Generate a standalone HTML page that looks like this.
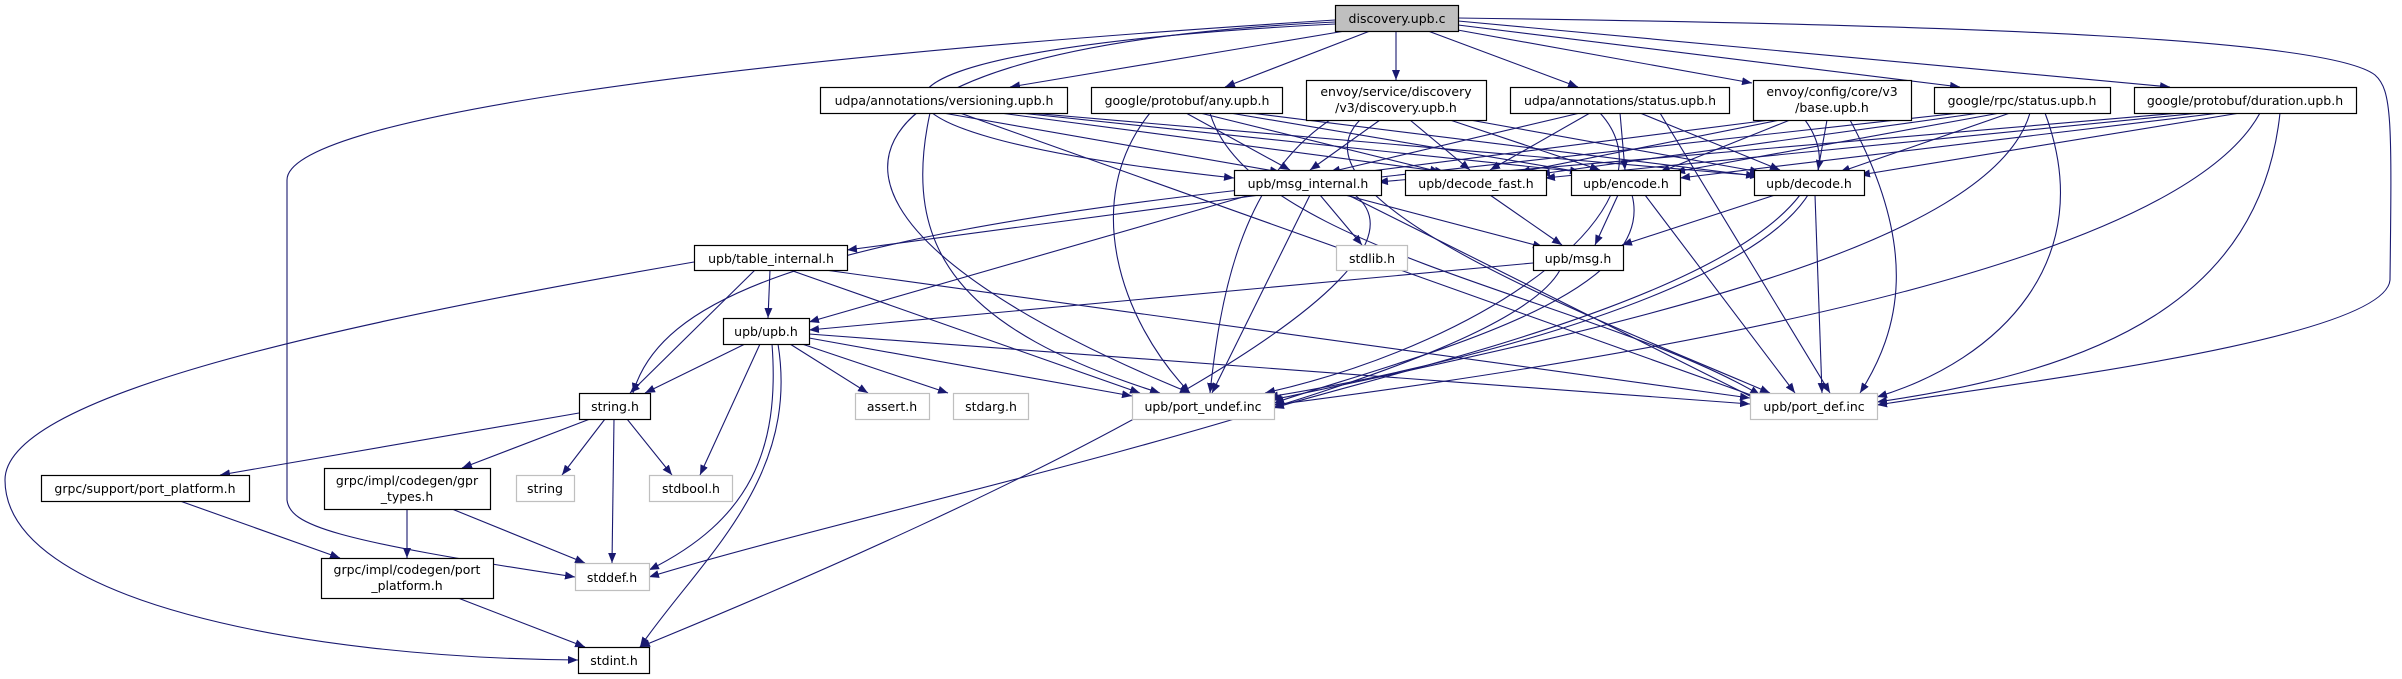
<!DOCTYPE html>
<html><head><meta charset="utf-8"><style>
html,body{margin:0;padding:0;background:#fff;}
svg{display:block;}
text{font-family:"DejaVu Sans","Liberation Sans",sans-serif;font-size:12.5px;fill:#000;text-anchor:middle;}
.n{fill:#fff;stroke:#000;stroke-width:1.2;}
.g{fill:#fff;stroke:#bfbfbf;stroke-width:1.2;}
.e{fill:none;stroke:#191970;stroke-width:1.1;marker-end:url(#a);}
</style></head><body>
<svg width="2402" height="679" viewBox="0 0 2402 679" xmlns="http://www.w3.org/2000/svg">
<defs><marker id="a" viewBox="0 0 10 8" refX="10" refY="4" markerWidth="10" markerHeight="8" markerUnits="userSpaceOnUse" orient="auto"><path d="M0,0 L10,4 L0,8 z" fill="#191970"/></marker></defs>
<g>
<path class="e" d="M1345,31 L1010,87"/>
<path class="e" d="M1370,31 L1225,87"/>
<path class="e" d="M1396,31 L1396,80"/>
<path class="e" d="M1428,31 L1578,87"/>
<path class="e" d="M1452,29 L1752,83"/>
<path class="e" d="M1458,25 L1960,87"/>
<path class="e" d="M1458,21 L2170,87"/>
<path class="e" d="M1335,24 C820,50 790,130 1234,178"/>
<path class="e" d="M1335,22 C760,50 770,220 1190,393"/>
<path class="e" d="M1335,20 C700,60 287,120 287,180 L287,500 C290,525 330,540 575,577"/>
<path class="e" d="M1458,18 C2000,25 2330,40 2375,75 C2392,90 2392,120 2390,280 C2385,340 2000,385 1877,405"/>
<path class="e" d="M943,113 L1280,172"/><path class="e" d="M1000,113 L1445,172"/><path class="e" d="M1020,113 L1600,174"/><path class="e" d="M1030,113 L1760,176"/><path class="e" d="M930,113 C900,250 960,330 1160,393"/><path class="e" d="M960,113 L1765,400"/>
<path class="e" d="M1186,113 L1290,170"/><path class="e" d="M1200,113 L1440,172"/><path class="e" d="M1230,113 L1580,172"/><path class="e" d="M1250,113 L1756,176"/><path class="e" d="M1150,113 C1080,200 1120,320 1190,393"/><path class="e" d="M1210,113 C1250,250 1600,300 1760,395"/>
<path class="e" d="M1380,120 L1310,170"/><path class="e" d="M1410,120 L1470,170"/><path class="e" d="M1450,120 L1600,170"/><path class="e" d="M1470,120 L1760,172"/><path class="e" d="M1330,120 C1240,180 1220,300 1210,393"/><path class="e" d="M1360,120 C1280,200 1600,320 1770,393"/>
<path class="e" d="M1580,113 L1330,172"/><path class="e" d="M1590,113 L1490,170"/><path class="e" d="M1620,113 L1625,170"/><path class="e" d="M1640,113 L1780,170"/><path class="e" d="M1600,113 C1680,200 1500,340 1265,393"/><path class="e" d="M1660,113 L1830,393"/>
<path class="e" d="M1770,120 L1340,175"/><path class="e" d="M1780,120 L1520,172"/><path class="e" d="M1790,120 L1660,172"/><path class="e" d="M1827,120 L1818,170"/><path class="e" d="M1805,120 C1900,250 1500,360 1268,397"/><path class="e" d="M1850,120 C1920,250 1900,330 1860,393"/>
<path class="e" d="M1960,113 L1372,178"/><path class="e" d="M1980,113 L1540,174"/><path class="e" d="M2000,113 L1675,172"/><path class="e" d="M2010,113 L1840,172"/><path class="e" d="M2030,113 C1990,250 1600,330 1272,400"/><path class="e" d="M2045,113 C2100,260 2000,360 1877,397"/>
<path class="e" d="M2180,113 L1378,182"/><path class="e" d="M2200,113 L1545,178"/><path class="e" d="M2220,113 L1680,178"/><path class="e" d="M2240,113 L1860,175"/><path class="e" d="M2260,113 C2180,260 1700,350 1273,405"/><path class="e" d="M2280,113 C2260,300 2100,370 1877,402"/>
<path class="e" d="M1260,195 L847,250"/>
<path class="e" d="M1250,195 L809,322"/>
<path class="e" d="M1345,195 L1543,247"/>
<path class="e" d="M1320,195 L1362,245"/>
<path class="e" d="M1240,190 C800,240 660,300 633,393"/>
<path class="e" d="M1355,195 C1460,280 1000,500 640,647"/>
<path class="e" d="M1310,195 L1212,393"/>
<path class="e" d="M1348,195 L1762,402"/>
<path class="e" d="M1490,195 L1562,245"/>
<path class="e" d="M1618,195 L1595,245"/>
<path class="e" d="M1632,195 C1660,300 1400,360 1274,403"/>
<path class="e" d="M1645,195 L1795,393"/>
<path class="e" d="M1775,195 L1622,245"/>
<path class="e" d="M1800,195 C1720,300 1400,370 1274,408"/>
<path class="e" d="M1815,195 L1822,393"/>
<path class="e" d="M1533,263 L809,330"/>
<path class="e" d="M1560,270 C1500,380 900,500 649,577"/>
<path class="e" d="M770,270 L768,318"/>
<path class="e" d="M755,270 L630,393"/>
<path class="e" d="M694,262 C300,330 5,400 5,480 C5,600 300,658 578,660"/>
<path class="e" d="M790,270 L1140,393"/>
<path class="e" d="M825,270 L1750,398"/>
<path class="e" d="M745,344 L645,393"/>
<path class="e" d="M790,344 L868,393"/>
<path class="e" d="M802,344 L948,393"/>
<path class="e" d="M760,344 L700,475"/>
<path class="e" d="M772,344 C780,450 750,520 649,570"/>
<path class="e" d="M778,344 C800,480 700,560 640,647"/>
<path class="e" d="M809,338 L1132,396"/>
<path class="e" d="M809,334 L1750,404"/>
<path class="e" d="M579,413 L220,475"/>
<path class="e" d="M590,419 L462,468"/>
<path class="e" d="M605,419 L562,475"/>
<path class="e" d="M627,419 L672,475"/>
<path class="e" d="M614,419 L612,563"/>
<path class="e" d="M180,501 L340,558"/>
<path class="e" d="M407,509 L407,558"/>
<path class="e" d="M452,509 L585,563"/>
<path class="e" d="M458,598 L585,647"/>
</g>
<g>
<rect x="1335.5" y="5.5" width="123" height="26" fill="#bfbfbf" stroke="#000" stroke-width="1.2"/><text x="1397" y="23">discovery.upb.c</text>
<rect class="n" x="820.5" y="87.5" width="247" height="26"/><text x="944" y="105">udpa/annotations/versioning.upb.h</text>
<rect class="n" x="1091.5" y="87.5" width="191" height="26"/><text x="1187" y="105">google/protobuf/any.upb.h</text>
<rect class="n" x="1306.5" y="80.5" width="180" height="40"/><text x="1396" y="96">envoy/service/discovery</text><text x="1396" y="112">/v3/discovery.upb.h</text>
<rect class="n" x="1510.5" y="87.5" width="219" height="26"/><text x="1620" y="105">udpa/annotations/status.upb.h</text>
<rect class="n" x="1753.5" y="80.5" width="158" height="40"/><text x="1832" y="96">envoy/config/core/v3</text><text x="1832" y="112">/base.upb.h</text>
<rect class="n" x="1934.5" y="87.5" width="176" height="26"/><text x="2022" y="105">google/rpc/status.upb.h</text>
<rect class="n" x="2134.5" y="87.5" width="222" height="26"/><text x="2245" y="105">google/protobuf/duration.upb.h</text>
<rect class="n" x="1234.5" y="170.5" width="147" height="25"/><text x="1308" y="188">upb/msg_internal.h</text>
<rect class="n" x="1405.5" y="170.5" width="141" height="25"/><text x="1476" y="188">upb/decode_fast.h</text>
<rect class="n" x="1571.5" y="170.5" width="109" height="25"/><text x="1626" y="188">upb/encode.h</text>
<rect class="n" x="1754.5" y="170.5" width="110" height="25"/><text x="1809" y="188">upb/decode.h</text>
<rect class="n" x="694.5" y="245.5" width="153" height="25"/><text x="771" y="263">upb/table_internal.h</text>
<rect class="g" x="1336.5" y="245.5" width="71" height="25"/><text x="1372" y="263">stdlib.h</text>
<rect class="n" x="1533.5" y="245.5" width="90" height="25"/><text x="1578" y="263">upb/msg.h</text>
<rect class="n" x="723.5" y="318.5" width="86" height="26"/><text x="766" y="336">upb/upb.h</text>
<rect class="n" x="579.5" y="393.5" width="71" height="26"/><text x="615" y="411">string.h</text>
<rect class="g" x="855.5" y="393.5" width="74" height="26"/><text x="892" y="411">assert.h</text>
<rect class="g" x="953.5" y="393.5" width="75" height="26"/><text x="991" y="411">stdarg.h</text>
<rect class="g" x="1132.5" y="393.5" width="142" height="26"/><text x="1203" y="411">upb/port_undef.inc</text>
<rect class="g" x="1750.5" y="393.5" width="127" height="26"/><text x="1814" y="411">upb/port_def.inc</text>
<rect class="n" x="41.5" y="475.5" width="208" height="26"/><text x="145" y="493">grpc/support/port_platform.h</text>
<rect class="n" x="324.5" y="468.5" width="166" height="41"/><text x="407" y="485">grpc/impl/codegen/gpr</text><text x="407" y="501">_types.h</text>
<rect class="g" x="516.5" y="475.5" width="58" height="26"/><text x="545" y="493">string</text>
<rect class="g" x="649.5" y="475.5" width="83" height="26"/><text x="691" y="493">stdbool.h</text>
<rect class="n" x="321.5" y="558.5" width="172" height="40"/><text x="407" y="574">grpc/impl/codegen/port</text><text x="407" y="590">_platform.h</text>
<rect class="g" x="575.5" y="563.5" width="74" height="27"/><text x="612" y="582">stddef.h</text>
<rect class="n" x="578.5" y="647.5" width="71" height="26"/><text x="614" y="665">stdint.h</text>
</g>
</svg>
</body></html>
